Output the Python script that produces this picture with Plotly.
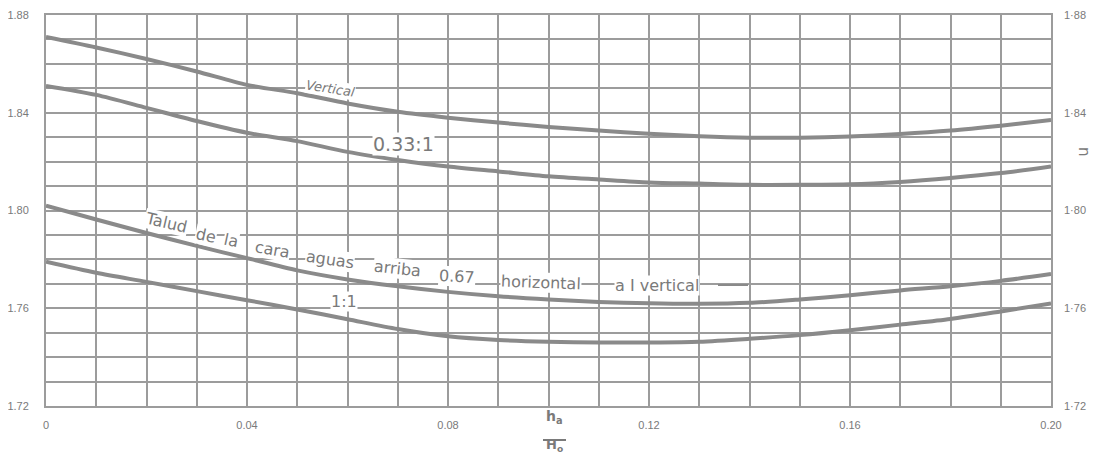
import plotly.graph_objects as go

# ---------------- data ----------------
x_vals = [0.00, 0.01, 0.02, 0.03, 0.04, 0.05, 0.06, 0.07, 0.08, 0.09, 0.10,
          0.11, 0.12, 0.13, 0.14, 0.15, 0.16, 0.17, 0.18, 0.19, 0.20]

vertical = [1.8710, 1.8667, 1.8620, 1.8569, 1.8514, 1.8480, 1.8438, 1.8404,
            1.8380, 1.8360, 1.8342, 1.8327, 1.8314, 1.8304, 1.8298, 1.8298,
            1.8303, 1.8313, 1.8327, 1.8347, 1.8370]

slope_033 = [1.8510, 1.8473, 1.8420, 1.8366, 1.8318, 1.8284, 1.8240, 1.8207,
             1.8180, 1.8160, 1.8140, 1.8127, 1.8115, 1.8110, 1.8105, 1.8105,
             1.8107, 1.8117, 1.8133, 1.8153, 1.8180]

slope_067 = [1.8020, 1.7963, 1.7908, 1.7855, 1.7805, 1.7755, 1.7718, 1.7690,
             1.7667, 1.7649, 1.7636, 1.7626, 1.7620, 1.7618, 1.7622, 1.7636,
             1.7653, 1.7673, 1.7690, 1.7712, 1.7740]

slope_1 = [1.7790, 1.7745, 1.7708, 1.7670, 1.7633, 1.7595, 1.7555, 1.7515,
           1.7485, 1.7470, 1.7463, 1.7460, 1.7460, 1.7463, 1.7475, 1.7490,
           1.7510, 1.7533, 1.7556, 1.7587, 1.7620]

x_ticks = [0.00, 0.04, 0.08, 0.12, 0.16, 0.20]
x_tick_text = ["0", "0.04", "0.08", "0.12", "0.16", "0.20"]
y_ticks = [1.72, 1.76, 1.80, 1.84, 1.88]
y_tick_text_left = ["1.72", "1.76", "1.80", "1.84", "1.88"]
y_tick_text_right = ["1·72", "1·76", "1·80", "1·84", "1·88"]

# ---------------- style ----------------
# the page body adds an 8px offset, so the figure is sized/placed to compensate
OFF = 8
W, H = 1104 - OFF, 466 - OFF
PL, PR, PT, PB = 46, 1051, 15, 406          # plot box on screen
ML, MT = PL - OFF, PT - OFF
MR, MB = W - (PR - OFF), H - (PB - OFF)
PW, PH = PR - PL, PB - PT

CURVE = "#8a8a8a"
GRID = "#9c9c9c"
TEXT = "#7a7a7a"
FONT = "DejaVu Sans"
TICKFONT = "Liberation Sans"


def px(xp):
    return (xp - PL) / PW


def py(yp):
    return (PB - yp) / PH


fig = go.Figure()
for series in [vertical, slope_033, slope_067, slope_1]:
    fig.add_trace(go.Scatter(
        x=x_vals, y=series, mode="lines",
        line=dict(color=CURVE, width=4, shape="spline", smoothing=0.8),
        showlegend=False, hoverinfo="skip"))

# invisible trace so the right axis is drawn
fig.add_trace(go.Scatter(x=[x_vals[0]], y=[vertical[0]], yaxis="y2",
                         mode="markers", marker=dict(opacity=0),
                         showlegend=False, hoverinfo="skip"))

annotations = []


def word(text, xp, yp, angle, size=16, italic=False, bg="white"):
    t = f"<i>{text}</i>" if italic else text
    annotations.append(dict(
        text=t, xref="paper", yref="paper", x=px(xp), y=py(yp),
        showarrow=False, textangle=angle, xanchor="center", yanchor="middle",
        font=dict(family=FONT, size=size, color=TEXT),
        bgcolor=bg, borderpad=0))


word("Vertical", 330, 88, 9, size=13, italic=True)
word("0.33:1", 403, 144, 0, size=19)
word("Talud", 166, 222, 13)
word("de", 206, 235, 12)
word("la", 231, 241, 12)
word("cara", 272, 249, 10)
word("aguas", 330, 259, 8)
word("arriba", 397, 268, 6)
word("0.67", 457, 276, 3)
word("horizontal", 541, 282, 2)
word("a I vertical", 657, 285, 0)
word("1:1", 344, 301, 0)

# axis title (fraction h_a / H_o)
annotations.append(dict(text="<b>h<sub>a</sub></b>", xref="paper", yref="paper",
                        x=px(554), y=py(428), showarrow=False,
                        font=dict(family=FONT, size=14, color=TEXT)))
annotations.append(dict(text="<b>H<sub>o</sub></b>", xref="paper", yref="paper",
                        x=px(554), y=py(456), showarrow=False,
                        font=dict(family=FONT, size=13, color=TEXT)))
annotations.append(dict(text="n", xref="paper", yref="paper",
                        x=px(1084), y=py(152), showarrow=False, textangle=90,
                        xanchor="center", yanchor="middle",
                        font=dict(family=FONT, size=15, color=TEXT)))

shapes = [
    dict(type="line", xref="paper", yref="paper", x0=px(543), x1=px(566),
         y0=py(440), y1=py(440), line=dict(color=TEXT, width=2)),
    dict(type="line", xref="paper", yref="paper", x0=px(718), x1=px(748),
         y0=py(285), y1=py(285), line=dict(color=CURVE, width=2)),
]

axis_common = dict(showline=True, mirror=True, linecolor=GRID, linewidth=2,
                   ticks="", zeroline=False, automargin=False,
                   tickfont=dict(family=TICKFONT, size=11, color=TEXT))

fig.update_layout(
    width=W, height=H,
    margin=dict(l=ML, r=MR, t=MT, b=MB),
    paper_bgcolor="white", plot_bgcolor="white",
    xaxis=dict(range=[0, 0.20], tickvals=x_ticks, ticktext=x_tick_text,
               showgrid=True, gridcolor=GRID, gridwidth=1.5,
               minor=dict(dtick=0.01, tick0=0, showgrid=True,
                          gridcolor=GRID, gridwidth=1.5),
               ticklabelstandoff=8, **axis_common),
    yaxis=dict(range=[1.72, 1.88], tickvals=y_ticks, ticktext=y_tick_text_left,
               showgrid=True, gridcolor=GRID, gridwidth=1.5,
               minor=dict(dtick=0.01, tick0=1.72, showgrid=True,
                          gridcolor=GRID, gridwidth=1.5),
               ticklabelstandoff=13, **axis_common),
    yaxis2=dict(range=[1.72, 1.88], overlaying="y", side="right",
                tickvals=y_ticks, ticktext=y_tick_text_right, showgrid=False,
                showline=False, ticks="", zeroline=False, ticklabelstandoff=12,
                automargin=False,
                tickfont=dict(family=TICKFONT, size=11, color=TEXT)),
    annotations=annotations,
    shapes=shapes,
)

fig.write_html("out.html")
